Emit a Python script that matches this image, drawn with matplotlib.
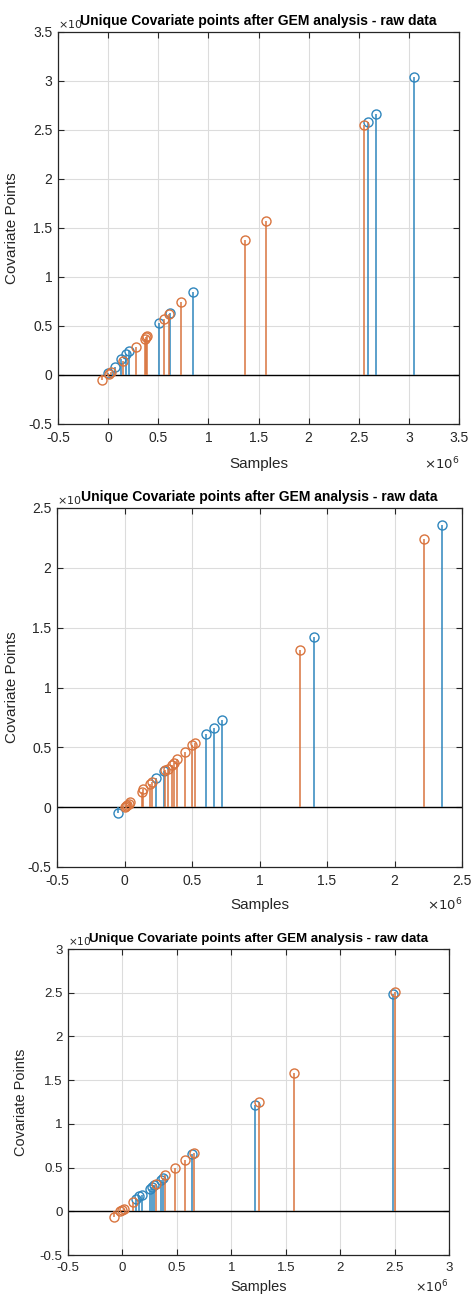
import matplotlib
matplotlib.use("Agg")
import matplotlib.pyplot as plt

plt.rcParams['font.family'] = ['Liberation Sans', 'DejaVu Sans']

title_text = "Unique Covariate points after GEM analysis - raw data"
xlabel_text = "Samples"
ylabel_text = "Covariate Points"

# Panel 1 (values in units of 1e6)
p1_blue_x = [0.00, 0.07, 0.13, 0.18, 0.21, 0.51, 0.62, 0.85, 2.59, 2.67, 3.05]
p1_blue_y = [0.02, 0.08, 0.16, 0.21, 0.24, 0.53, 0.63, 0.85, 2.58, 2.66, 3.04]
p1_orange_x = [-0.06, 0.01, 0.03, 0.15, 0.28, 0.37, 0.38, 0.39, 0.56, 0.61, 0.73, 1.37, 1.57, 2.55]
p1_orange_y = [-0.05, 0.01, 0.03, 0.14, 0.29, 0.37, 0.39, 0.40, 0.57, 0.62, 0.74, 1.38, 1.57, 2.55]
p1_xlim = (-0.5, 3.5)
p1_ylim = (-0.5, 3.5)
p1_ticks = [-0.5, 0, 0.5, 1, 1.5, 2, 2.5, 3, 3.5]
p1_ticklabels = ['-0.5', '0', '0.5', '1', '1.5', '2', '2.5', '3', '3.5']

# Panel 2
p2_blue_x = [-0.05, 0.23, 0.29, 0.60, 0.66, 0.72, 1.40, 2.35]
p2_blue_y = [-0.05, 0.24, 0.30, 0.61, 0.66, 0.73, 1.42, 2.36]
p2_orange_x = [0.00, 0.01, 0.02, 0.03, 0.04, 0.13, 0.14, 0.19, 0.20, 0.30, 0.32, 0.35, 0.37, 0.39,
               0.45, 0.50, 0.52, 1.30, 2.22]
p2_orange_y = [0.00, 0.01, 0.02, 0.03, 0.045, 0.13, 0.15, 0.19, 0.21, 0.31, 0.32, 0.35, 0.37, 0.40,
               0.46, 0.52, 0.54, 1.31, 2.24]
p2_xlim = (-0.5, 2.5)
p2_ylim = (-0.5, 2.5)
p2_ticks = [-0.5, 0, 0.5, 1, 1.5, 2, 2.5]
p2_ticklabels = ['-0.5', '0', '0.5', '1', '1.5', '2', '2.5']

# Panel 3
p3_blue_x = [0.125, 0.155, 0.18, 0.25, 0.27, 0.29, 0.35, 0.37, 0.64, 1.22, 2.49]
p3_blue_y = [0.14, 0.17, 0.19, 0.25, 0.28, 0.30, 0.36, 0.38, 0.65, 1.22, 2.49]
p3_orange_x = [-0.08, -0.02, 0.00, 0.01, 0.10, 0.31, 0.39, 0.48, 0.575, 0.66, 1.25, 1.58, 2.50]
p3_orange_y = [-0.07, 0.00, 0.02, 0.03, 0.11, 0.31, 0.41, 0.49, 0.59, 0.67, 1.25, 1.58, 2.51]
p3_xlim = (-0.5, 3.0)
p3_ylim = (-0.5, 3.0)
p3_ticks = [-0.5, 0, 0.5, 1, 1.5, 2, 2.5, 3]
p3_ticklabels = ['-0.5', '0', '0.5', '1', '1.5', '2', '2.5', '3']

BLUE = '#2f86bd'
ORANGE = '#d9743e'

W, H = 473, 1295
fig = plt.figure(figsize=(W / 100, H / 100), dpi=100)

def add_axes(left, top, right, bottom):
    return fig.add_axes([left / W, 1 - bottom / H, (right - left) / W, (bottom - top) / H])

# (axes box, font scale, xlabel offset px, ylabel pad)
panels = [
    ((58, 32, 459, 424), 1.0, 40, 7, p1_blue_x, p1_blue_y, p1_orange_x, p1_orange_y, p1_xlim, p1_ylim, p1_ticks, p1_ticklabels),
    ((57, 508, 462, 867), 1.0, 38, 6, p2_blue_x, p2_blue_y, p2_orange_x, p2_orange_y, p2_xlim, p2_ylim, p2_ticks, p2_ticklabels),
    ((68, 949, 449, 1255), 0.95, 32, 8, p3_blue_x, p3_blue_y, p3_orange_x, p3_orange_y, p3_xlim, p3_ylim, p3_ticks, p3_ticklabels),
]

for box, fs, xoff, ypad, bx, by, ox, oy, xlim, ylim, ticks, labels in panels:
    ax = add_axes(*box)
    for xs, ys, col in ((bx, by, BLUE), (ox, oy, ORANGE)):
        ml, sl, bl = ax.stem(xs, ys, basefmt=' ')
        ml.set_color(col)
        ml.set_markerfacecolor('none')
        ml.set_markersize(6.5)
        ml.set_markeredgewidth(1.0)
        sl.set_color(col)
        sl.set_linewidth(1.1)
    ax.axhline(0, color='black', lw=1.0, zorder=1)
    ax.set_xlim(*xlim)
    ax.set_ylim(*ylim)
    ax.set_xticks(ticks)
    ax.set_xticklabels(labels)
    ax.set_yticks(ticks)
    ax.set_yticklabels(labels)
    ax.grid(True, color='#dcdcdc', lw=0.8)
    ax.set_axisbelow(True)
    ax.tick_params(direction='in', length=4, width=0.8, colors='#262626', labelsize=10 * fs,
                   top=True, right=True)
    ax.tick_params(axis='x', pad=5 * fs)
    ax.tick_params(axis='y', pad=4)
    for s in ax.spines.values():
        s.set_color('#262626')
        s.set_linewidth(0.9)
    hbox = box[3] - box[1]
    ax.set_ylabel(ylabel_text, fontsize=11 * fs, color='#262626', labelpad=ypad)
    ax.text(0.5, -xoff / hbox, xlabel_text, transform=ax.transAxes, ha='center', va='center',
            fontsize=11 * fs, color='#262626')
    ax.text(1.0, -xoff / hbox, r'$\times10^6$', transform=ax.transAxes, ha='right', va='center',
            fontsize=9.5 * fs, color='#262626')
    ax.set_title(title_text, fontsize=10 * fs, fontweight='bold', pad=5)
    ax.text(0.0, 1.005, r'$\times10$', transform=ax.transAxes, ha='left', va='bottom',
            fontsize=8 * fs, color='#262626')

fig.savefig('out.png', dpi=100)
